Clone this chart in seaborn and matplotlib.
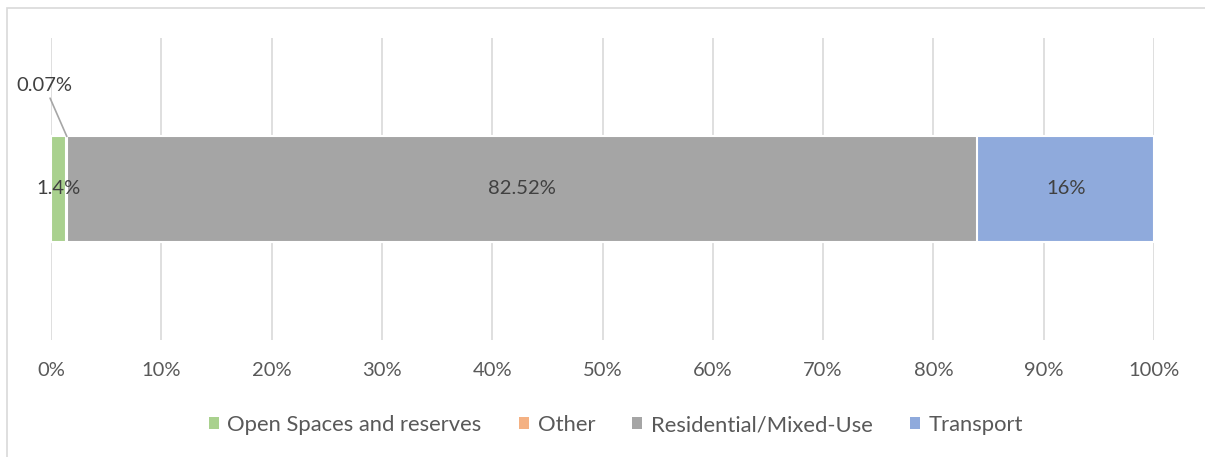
import pandas as pd
import seaborn as sns
import matplotlib.pyplot as plt
from matplotlib.patches import Patch, Rectangle

# values (percent of total area)
categories = ['Open Spaces and reserves', 'Other', 'Residential/Mixed-Use', 'Transport']
shares = [1.4, 0.07, 82.52, 16.0]
labels = ['1.4%', '0.07%', '82.52%', '16%']
colors = ['#A9D18E', '#F4B183', '#A5A5A5', '#8FAADC']
ticks = list(range(0, 101, 10))

df = pd.DataFrame({'category': categories, 'share': shares, 'label': labels, 'color': colors})
df['end'] = df['share'].cumsum()
df['start'] = df['end'] - df['share']
df['mid'] = df['start'] + df['share'] / 2

sns.set_style('white')
plt.rcParams['font.family'] = ['Lato', 'DejaVu Sans']

fig = plt.figure(figsize=(12.05, 4.57), dpi=100)
ax = fig.add_axes([51 / 1205, 1 - 340 / 457, 1103 / 1205, 302 / 457])

# outer chart border
fig.patches.append(Rectangle((7 / 1205, -0.05), 1.1, 1 - 8 / 457 + 0.05, transform=fig.transFigure,
                             fill=False, edgecolor='#d9d9d9', linewidth=1.2, zorder=0))

# stacked bar: draw cumulative totals from the largest down
for _, row in df.iloc[::-1].iterrows():
    sns.barplot(x=[row['end']], y=[0], orient='h', color=row['color'], width=0.348, saturation=1,
                edgecolor='white', linewidth=1.5, ax=ax, zorder=2)

ax.set_ylim(0.5, -0.5)
ax.set_xlim(0, 100)
ax.set_xticks(ticks)
ax.set_xticklabels([f'{t}%' for t in ticks])
ax.set_yticks([])
ax.set_xlabel('')
ax.set_ylabel('')
ax.grid(axis='x', color='#d9d9d9', linewidth=1.2, zorder=0)
ax.set_axisbelow(True)
for s in ax.spines.values():
    s.set_visible(False)
ax.tick_params(axis='x', length=0, pad=16, labelsize=14.5, labelcolor='#595959')

# data labels
for _, row in df.iterrows():
    if row['category'] == 'Other':
        ax.annotate(row['label'], xy=(row['mid'], -0.174), xytext=(-0.6, -0.344),
                    textcoords='data', ha='center', va='center', fontsize=14.5, color='#404040',
                    arrowprops=dict(arrowstyle='-', color='#a6a6a6', linewidth=1.2, shrinkA=1, shrinkB=0),
                    annotation_clip=False)
    else:
        ax.text(row['mid'], 0, row['label'], ha='center', va='center', fontsize=14.5, color='#404040')

handles = [Patch(facecolor=c, edgecolor='none') for c in colors]
fig.legend(handles, categories, loc='center', bbox_to_anchor=(616 / 1205, 1 - 425 / 457), ncol=4,
           frameon=False, fontsize=15.8, labelcolor='#595959', handlelength=0.45, handleheight=0.45,
           handletextpad=0.4, columnspacing=1.7)

fig.savefig('out.png', dpi=100)
